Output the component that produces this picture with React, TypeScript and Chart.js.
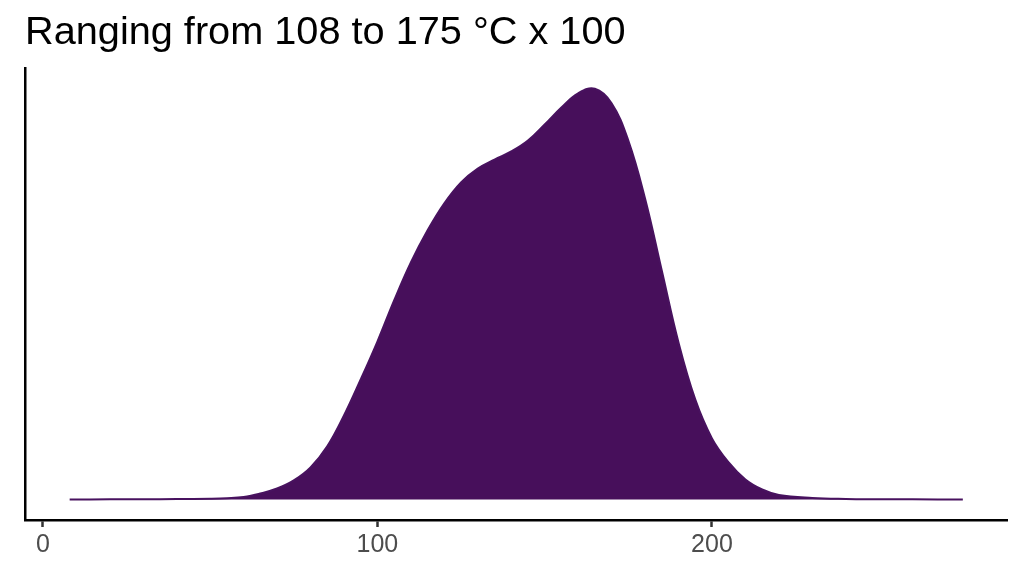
import Chart from 'chart.js/auto';
import { useEffect, useRef } from 'react';

// density curve (x in °C / 100, y = density)
const tempX = [
  8, 20, 30, 40, 50, 55, 60, 65, 70, 75, 80, 85, 90, 95, 100, 105, 110, 115, 120, 125, 130, 135,
  140, 145, 150, 155, 160, 165, 170, 175, 180, 185, 190, 195, 200, 205, 210, 215, 220, 230, 240,
  250, 260, 275,
];
const density = [
  0.0000016, 0.0000031, 0.0000062, 0.0000124, 0.0000249, 0.0000404, 0.0000778, 0.000187, 0.000342,
  0.000591, 0.000995, 0.00165, 0.00261, 0.00373, 0.00491, 0.00619, 0.00737, 0.00837, 0.00921,
  0.00986, 0.01029, 0.01057, 0.01082, 0.01116, 0.01166, 0.01219, 0.01263, 0.01277, 0.01232, 0.01116,
  0.00936, 0.00712, 0.00488, 0.00311, 0.0019, 0.00115, 0.00062, 0.00031, 0.00014, 0.0000467,
  0.0000156, 0.0000078, 0.0000037, 0.0000019,
];
const xTicks = [0, 100, 200];
const titleText = 'Ranging from 108 to 175 °C x 100';

const FONT = "'Liberation Sans', Arial, sans-serif";

const App = () => {
  const chartRef = useRef<HTMLCanvasElement | null>(null);

  useEffect(() => {
    if (!chartRef.current) return;
    const ctx = chartRef.current.getContext('2d');
    if (!ctx) return;

    // ggplot style 5% expansion
    const xMin = Math.min(...tempX);
    const xMax = Math.max(...tempX);
    const xPad = (xMax - xMin) * 0.05;
    const yMax = Math.max(...density);
    const yPad = yMax * 0.05;

    const chartInstance = new Chart(ctx, {
      type: 'line',
      data: {
        datasets: [
          {
            data: tempX.map((x, i) => ({ x, y: density[i] })),
            backgroundColor: '#470f5b',
            borderColor: '#48125f',
            borderWidth: 2,
            fill: 'origin',
            pointRadius: 0,
            tension: 0.4,
          },
        ],
      },
      options: {
        animation: false,
        responsive: true,
        maintainAspectRatio: false,
        layout: { padding: { left: 25, right: 16.5, top: 0, bottom: 0 } },
        plugins: {
          legend: { display: false },
          tooltip: { enabled: false },
          title: {
            display: true,
            text: titleText,
            align: 'start',
            color: '#000',
            font: { family: FONT, size: 39.7, weight: 'normal', lineHeight: 1.2 },
            padding: { top: 9, bottom: 11.6 },
          },
        },
        scales: {
          x: {
            type: 'linear',
            min: xMin - xPad,
            max: xMax + xPad,
            afterBuildTicks: (scale) => {
              scale.ticks = xTicks.map((v) => ({ value: v }));
            },
            afterFit: (scale) => {
              scale.height = 56;
            },
            grid: {
              display: true,
              drawOnChartArea: false,
              drawTicks: true,
              tickLength: 7,
              tickColor: '#333333',
              tickWidth: 2.5,
            },
            border: { display: true, color: '#000', width: 2.5 },
            ticks: {
              color: '#4d4d4d',
              padding: 3,
              maxRotation: 0,
              font: { family: FONT, size: 25, lineHeight: 1.2 },
            },
          },
          y: {
            min: -yPad,
            max: yMax + yPad,
            afterFit: (scale) => {
              scale.width = 0;
            },
            grid: { display: false },
            border: { display: true, color: '#000', width: 2.5 },
            ticks: { display: false },
          },
        },
      },
    });

    return () => {
      chartInstance.destroy();
    };
  }, []);

  return (
    <div style={{ position: 'fixed', left: 0, top: 0, width: 1024, height: 576, background: '#fff' }}>
      <canvas ref={chartRef}></canvas>
    </div>
  );
};

export default App;
